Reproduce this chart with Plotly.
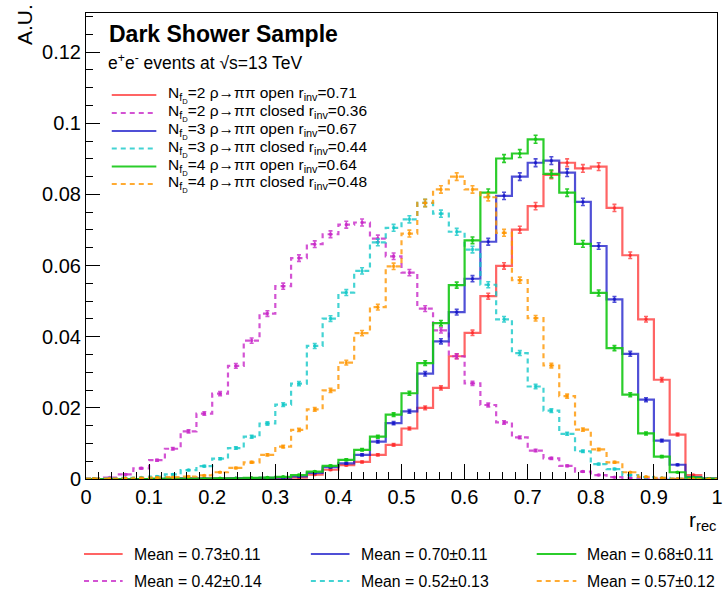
import plotly.graph_objects as go

# ---------------- data ----------------
bin_edges = [round(i * 0.025, 3) for i in range(41)]

h_nf2_open = [0, 0, 0, 0, 0, 0, 0.0001, 0.0001, 0.0001, 0.0001, 0.0002, 0.0002, 0.0003, 0.0004,
              0.0012, 0.0026, 0.0039, 0.0048, 0.0068, 0.0096, 0.0142, 0.0200, 0.0256, 0.0345,
              0.0411, 0.0514, 0.0599, 0.0701, 0.0767, 0.0855, 0.0889, 0.0873, 0.0878, 0.0762,
              0.0629, 0.0449, 0.0279, 0.0125, 0.0011, 0.0001]
h_nf2_closed = [0.0001, 0.0004, 0.0013, 0.0030, 0.0053, 0.0085, 0.0134, 0.0184, 0.0240, 0.0318,
                0.0389, 0.0465, 0.0542, 0.0621, 0.0660, 0.0688, 0.0715, 0.0721, 0.0676, 0.0626,
                0.0580, 0.0479, 0.0418, 0.0345, 0.0269, 0.0208, 0.0159, 0.0117, 0.0080, 0.0058,
                0.0037, 0.0021, 0.0011, 0.0005, 0.0003, 0.0001, 0.00005, 0, 0, 0]
h_nf3_open = [0, 0, 0, 0, 0, 0.0001, 0.0001, 0.0001, 0.0001, 0.0002, 0.0002, 0.0003, 0.0004,
              0.0007, 0.0017, 0.0033, 0.0044, 0.0068, 0.0105, 0.0157, 0.0190, 0.0296, 0.0387,
              0.0469, 0.0563, 0.0667, 0.0796, 0.0850, 0.0889, 0.0895, 0.0861, 0.0779, 0.0655,
              0.0505, 0.0352, 0.0223, 0.0108, 0.0040, 0.0005, 0.0001]
h_nf3_closed = [0.0001, 0.0002, 0.0003, 0.0004, 0.0007, 0.0013, 0.0025, 0.0036, 0.0057, 0.0087,
                0.0119, 0.0156, 0.0209, 0.0268, 0.0374, 0.0451, 0.0524, 0.0585, 0.0665, 0.0706,
                0.0730, 0.0776, 0.0746, 0.0695, 0.0645, 0.0546, 0.0449, 0.0354, 0.0260, 0.0192,
                0.0127, 0.0078, 0.0042, 0.0028, 0.0011, 0.0005, 0.0003, 0.0001, 0, 0]
h_nf4_open = [0, 0, 0, 0, 0.0001, 0.0001, 0.0001, 0.0001, 0.0002, 0.0002, 0.0003, 0.0004, 0.0006,
              0.0011, 0.0021, 0.0037, 0.0054, 0.0082, 0.0119, 0.0181, 0.0241, 0.0326, 0.0438,
              0.0545, 0.0671, 0.0805, 0.0901, 0.0915, 0.0955, 0.0858, 0.0805, 0.0661, 0.0523,
              0.0368, 0.0237, 0.0128, 0.0063, 0.0019, 0.0004, 0.0001]
h_nf4_closed = [0.0001, 0.0001, 0.0002, 0.0003, 0.0004, 0.0005, 0.0007, 0.0010, 0.0019, 0.0031,
                0.0047, 0.0068, 0.0091, 0.0138, 0.0196, 0.0249, 0.0327, 0.0410, 0.0483, 0.0598,
                0.0690, 0.0776, 0.0814, 0.0850, 0.0814, 0.0792, 0.0692, 0.0559, 0.0452, 0.0319,
                0.0233, 0.0139, 0.0083, 0.0047, 0.0019, 0.0006, 0.0003, 0.0001, 0, 0]

series_names = ["N<sub>f<sub>D</sub></sub>=2 ρ→ππ open r<sub>inv</sub>=0.71",
                "N<sub>f<sub>D</sub></sub>=2 ρ→ππ closed r<sub>inv</sub>=0.36",
                "N<sub>f<sub>D</sub></sub>=3 ρ→ππ open r<sub>inv</sub>=0.67",
                "N<sub>f<sub>D</sub></sub>=3 ρ→ππ closed r<sub>inv</sub>=0.44",
                "N<sub>f<sub>D</sub></sub>=4 ρ→ππ open r<sub>inv</sub>=0.64",
                "N<sub>f<sub>D</sub></sub>=4 ρ→ππ closed r<sub>inv</sub>=0.48"]
mean_labels = ["Mean = 0.73±0.11", "Mean = 0.42±0.14", "Mean = 0.70±0.11",
               "Mean = 0.52±0.13", "Mean = 0.68±0.11", "Mean = 0.57±0.12"]
N_EVENTS = 75000  # used only for the statistical error bars

# ---------------- styles ----------------
hists = [h_nf2_open, h_nf2_closed, h_nf3_open, h_nf3_closed, h_nf4_open, h_nf4_closed]
colors = ["rgba(255,40,40,0.72)", "rgba(200,40,200,0.8)", "rgba(20,20,200,0.75)",
          "rgba(20,200,200,0.8)", "rgba(20,200,20,0.9)", "rgba(255,150,0,0.8)"]
dashes = ["solid", "5px,4px", "solid", "5px,4px", "solid", "5px,4px"]
FONT = "Liberation Sans, Arial, Helvetica, sans-serif"

W, H = 726, 592
L, R, T, B = 86, 723, 13, 479


def px2x(px):
    return (px - L) / (R - L)


def py2y(py):
    return (B - py) / (B - T)


fig = go.Figure()
centers = [(bin_edges[i] + bin_edges[i + 1]) / 2 for i in range(len(bin_edges) - 1)]
for vals, col, dsh in zip(hists, colors, dashes):
    fig.add_trace(go.Scatter(x=bin_edges, y=list(vals) + [vals[-1]], mode="lines",
                             line=dict(color=col, width=2.2, dash=dsh, shape="hv"),
                             showlegend=False, hoverinfo="skip"))
    errs = [(v / N_EVENTS) ** 0.5 for v in vals]
    fig.add_trace(go.Scatter(x=centers, y=vals, mode="markers",
                             marker=dict(color=col, size=3.5),
                             error_y=dict(type="data", array=errs, color=col,
                                          thickness=1.6, width=2),
                             showlegend=False, hoverinfo="skip"))

annotations = []
shapes = []

# header texts
annotations.append(dict(x=px2x(107), y=py2y(34), xref="paper", yref="paper", xanchor="left",
                        yanchor="middle", showarrow=False, text="<b>Dark Shower Sample</b>",
                        font=dict(family=FONT, size=23, color="black")))
annotations.append(dict(x=px2x(106), y=py2y(62), xref="paper", yref="paper", xanchor="left",
                        yanchor="middle", showarrow=False,
                        text="e<sup>+</sup>e<sup>-</sup> events at √s=13 TeV",
                        font=dict(family=FONT, size=17.5, color="black")))

# top-left legend
row_y = [95, 113, 131, 148.5, 166.5, 184]
for i, (name, col, dsh) in enumerate(zip(series_names, colors, dashes)):
    yy = py2y(row_y[i])
    shapes.append(dict(type="line", xref="paper", yref="paper", x0=px2x(112), x1=px2x(157),
                       y0=yy, y1=yy, line=dict(color=col, width=2, dash=dsh)))
    annotations.append(dict(x=px2x(167), y=yy, xref="paper", yref="paper", xanchor="left",
                            yanchor="middle", showarrow=False, text=name,
                            font=dict(family=FONT, size=15.5, color="black")))

# bottom legend (means)
order = [0, 2, 4, 1, 3, 5]
col_line = [(84, 123), (313, 352), (541, 581)]
col_text = [132, 362, 590]
rows = [554, 581]
for k, idx in enumerate(order):
    r, c = divmod(k, 3)
    yy = py2y(rows[r])
    shapes.append(dict(type="line", xref="paper", yref="paper", x0=px2x(col_line[c][0]),
                       x1=px2x(col_line[c][1]), y0=yy, y1=yy,
                       line=dict(color=colors[idx], width=2, dash=dashes[idx])))
    annotations.append(dict(x=px2x(col_text[c]), y=yy, xref="paper", yref="paper",
                            xanchor="left", yanchor="middle", showarrow=False,
                            text=mean_labels[idx],
                            font=dict(family=FONT, size=15.8, color="black")))

# axis titles
annotations.append(dict(x=px2x(24), y=py2y(2), xref="paper", yref="paper", xanchor="center",
                        yanchor="top", showarrow=False, text="A.U.", textangle=-90,
                        font=dict(family=FONT, size=21, color="black")))
annotations.append(dict(x=px2x(724), y=py2y(521), xref="paper", yref="paper", xanchor="right",
                        yanchor="middle", showarrow=False, text="r<sub>rec</sub>",
                        font=dict(family=FONT, size=21, color="black")))

fig.update_layout(
    width=W, height=H,
    margin=dict(l=L, r=W - R, t=T, b=H - B, pad=0),
    paper_bgcolor="white", plot_bgcolor="white",
    showlegend=False,
    annotations=annotations, shapes=shapes,
    xaxis=dict(range=[0, 1], dtick=0.1, tick0=0, showgrid=False, zeroline=False,
               showline=True, linecolor="black", linewidth=1, mirror=True,
               ticks="inside", ticklen=15, tickwidth=1, tickcolor="black",
               ticklabeloverflow="allow",
               minor=dict(dtick=0.02, ticks="inside", ticklen=7, tickcolor="black",
                          showgrid=False),
               tickfont=dict(family=FONT, size=20, color="black")),
    yaxis=dict(range=[0, 0.131], dtick=0.02, tick0=0, showgrid=False, zeroline=False,
               showline=True, linecolor="black", linewidth=1, mirror=True,
               ticks="inside", ticklen=14, tickwidth=1, tickcolor="black",
               ticklabeloverflow="allow",
               minor=dict(dtick=0.005, ticks="inside", ticklen=7, tickcolor="black",
                          showgrid=False),
               tickfont=dict(family=FONT, size=20, color="black")),
)

fig.write_html("out.html")
